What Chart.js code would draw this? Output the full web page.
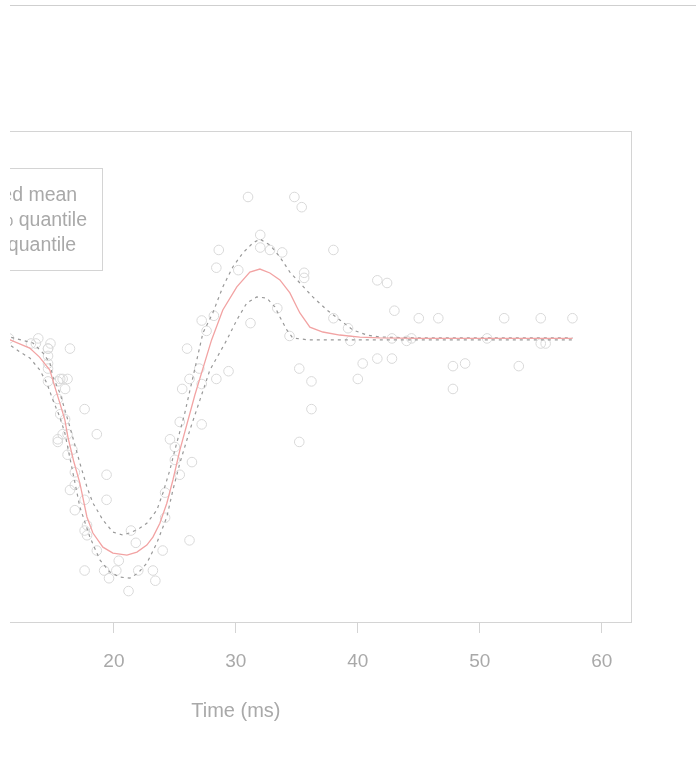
<!DOCTYPE html>
<html><head><meta charset="utf-8">
<script src="https://cdn.jsdelivr.net/npm/chart.js@4.4.1/dist/chart.umd.min.js"></script>
<style>
html,body{margin:0;padding:0;background:#fff;overflow:hidden;width:696px;height:771px;}
#rule{position:absolute;left:10px;top:5px;width:686px;height:1px;background:#cfcfcf;}
#clip{position:absolute;left:10px;top:0;width:686px;height:771px;overflow:hidden;}
#c{position:absolute;left:-300px;top:0;}
</style></head><body>
<div id="rule"></div>
<div id="clip"><canvas id="c" width="1000" height="771"></canvas></div>
<script>
// Observations (time in ms, acceleration in g)
const obsTime = [2.4,2.6,3.2,3.6,4.0,6.2,6.6,6.8,7.8,8.2,8.8,8.8,9.6,10.0,10.2,10.6,11.0,11.4,13.2,13.6,13.8,14.6,14.6,14.6,14.6,14.6,14.6,14.8,15.4,15.4,15.4,15.4,15.6,15.6,15.8,15.8,16.0,16.0,16.2,16.2,16.2,16.4,16.4,16.6,16.8,16.8,16.8,17.6,17.6,17.6,17.6,17.8,17.8,18.6,18.6,19.2,19.4,19.4,19.6,20.2,20.4,21.2,21.4,21.8,22.0,23.2,23.4,24.0,24.2,24.2,24.6,25.0,25.0,25.4,25.4,25.6,26.0,26.2,26.2,26.4,27.0,27.2,27.2,27.2,27.6,28.2,28.4,28.4,28.6,29.4,30.2,31.0,31.2,32.0,32.0,32.8,33.4,33.8,34.4,34.8,35.2,35.2,35.4,35.6,35.6,36.2,36.2,38.0,38.0,39.2,39.4,40.0,40.4,41.6,41.6,42.4,42.8,42.8,43.0,44.0,44.4,45.0,46.6,47.8,47.8,48.8,50.6,52.0,53.2,55.0,55.0,55.4,57.6];
const obsAccel = [0.0,-1.3,-2.7,0.0,-2.7,-2.7,-2.7,-1.3,-2.7,-2.7,-1.3,-2.7,-2.7,-2.7,-5.4,-2.7,-5.4,0.0,-2.7,-2.7,0.0,-13.3,-5.4,-5.4,-9.3,-16.0,-22.8,-2.7,-22.8,-32.1,-53.5,-54.9,-40.2,-21.5,-21.5,-50.8,-42.9,-26.8,-21.5,-50.8,-61.7,-5.4,-80.4,-59.0,-71.0,-91.1,-77.7,-37.5,-85.6,-123.1,-101.9,-99.1,-104.4,-112.5,-50.8,-123.1,-85.6,-72.3,-127.2,-123.1,-117.9,-134.0,-101.9,-108.4,-123.1,-123.1,-128.5,-112.5,-95.1,-81.8,-53.5,-64.4,-57.6,-72.3,-44.3,-26.8,-5.4,-107.1,-21.5,-65.6,-16.0,-45.6,-24.2,9.5,4.0,12.0,-21.5,37.5,46.9,-17.4,36.2,75.0,8.1,54.9,48.2,46.9,16.0,45.6,1.3,75.0,-16.0,-54.9,69.6,34.8,32.1,-37.5,-22.8,46.9,10.7,5.4,-1.3,-21.5,-13.3,30.8,-10.7,29.4,0.0,-10.7,14.7,-1.3,0.0,10.7,10.7,-26.8,-14.7,-13.3,0.0,10.7,-14.7,-2.7,10.7,-2.7,10.7];

// Fitted mean curve
const meanTime = [2.4,6,9,11.5,13.1,13.9,14.75,15.16,15.57,15.98,16.23,16.7,17.21,17.79,18.28,19.1,19.92,21.07,21.89,22.7,23.2,23.77,24.34,24.84,25.41,26.64,28.01,28.93,30.08,31.15,31.97,32.79,33.61,34.43,35.0,35.25,36.07,37.13,38.52,40.16,41.8,45,50,57.6];
const meanAccel = [-1,-1,-1,-0.8,-5.1,-9.9,-16.8,-25.7,-34.3,-43.2,-52.3,-65,-76.7,-94.7,-103.2,-110.7,-113.9,-114.9,-113.3,-109.6,-105.4,-98.0,-87.4,-75.1,-59.2,-30.0,-0.8,15.1,27.3,35.2,36.8,34.7,31.0,24.1,16.7,13.5,6.0,3.4,1.8,0.7,0.3,0,0,0];

// Upper (95%) quantile curve
const upperTime = [2.4,8,11.5,13.36,14.18,14.75,15.0,15.57,15.98,16.39,17.21,17.79,18.28,19.1,19.92,20.74,21.48,22.13,22.7,23.52,24.02,24.59,25.0,25.8,26.5,27.3,28.11,28.93,29.75,30.57,31.39,31.97,32.79,33.61,34.43,35.25,36.31,37.46,38.52,39.59,40.74,41.8,45,50,57.6];
const upperAccel = [1.5,1.5,0.7,-2.4,-7.7,-13.0,-20.4,-28.9,-37.9,-46.9,-66.1,-78.8,-87.3,-96.3,-102.7,-104.3,-102.7,-100.6,-98.0,-91.1,-82.0,-69.8,-59.2,-40,-20,2.9,13.5,27.3,37.9,45.3,50.6,52.7,49.6,43.2,35.2,29.4,22.0,15.1,9.8,4.5,1.8,0.7,0.3,0.3,0.3];

// Lower (5%) quantile curve
const lowerTime = [2.4,8,11.48,12.3,13.11,13.93,14.5,15.0,15.57,15.98,16.6,17.21,18.03,18.85,19.67,20.49,21.31,21.97,22.7,23.52,24.34,24.84,25.41,26.23,27.05,27.87,29.26,30.08,30.9,31.72,32.54,33.2,33.61,34.18,34.67,36,40,50,57.6];
const lowerAccel = [-3.5,-3.5,-3.5,-7.2,-10.4,-16.8,-23.7,-32.7,-41.7,-50.2,-70,-89.4,-105.3,-117.5,-123.9,-126.6,-127.1,-124.5,-119.2,-108.5,-94.7,-80.4,-66.1,-48.6,-32.7,-16.8,-0.8,9.8,18.8,22.0,21.4,16.7,11.4,4.5,0.2,-0.8,-0.8,-0.8,-0.8];

const xTicks = [0,10,20,30,40,50,60];
const yTicks = [-100,-50,0,50,100];
const legendLabels = ['Fitted mean','95% quantile','5% quantile'];
const xTitle = 'Time (ms)';
const yTitle = 'Acceleration (g)';

const FONT = '"Liberation Sans", Arial, Helvetica, sans-serif';
const zip = (a,b) => a.map((v,i)=>({x:v,y:b[i]}));

const MEAN_COL = '#f2a3a3', Q_COL = '#999999', PT_COL = '#d9d9d9', AX_COL = '#d4d4d4', TXT_COL = '#a9a9a9';

const boxPlugin = {
  id:'rbox',
  afterDatasetsDraw(chart){
    const {ctx, chartArea:a} = chart;
    ctx.save();
    ctx.strokeStyle = AX_COL; ctx.lineWidth = 1;
    ctx.strokeRect(Math.round(a.left)+0.5, Math.round(a.top)+0.5, Math.round(a.width), Math.round(a.height));
    ctx.restore();
  }
};

const legendPlugin = {
  id:'rlegend',
  afterDraw(chart){
    const {ctx, chartArea:a} = chart;
    ctx.save();
    ctx.font = '19.5px ' + FONT;
    const right = Math.round(a.left + 261.3), top = Math.round(a.top + 37), bottom = Math.round(a.top + 139);
    const maxW = Math.max(...legendLabels.map(l => ctx.measureText(l).width));
    const textX = right - 15 - maxW;
    const left = Math.round(textX - 60);
    ctx.fillStyle = '#fff';
    ctx.fillRect(left, top, right-left, bottom-top);
    ctx.strokeStyle = AX_COL; ctx.lineWidth = 1;
    ctx.strokeRect(left+0.5, top+0.5, right-left, bottom-top);
    const styles = [[MEAN_COL,[]],[Q_COL,[3,4]],[Q_COL,[3,4]]];
    legendLabels.forEach((lab,i) => {
      const y = top + 28 + i*25;
      ctx.strokeStyle = styles[i][0]; ctx.setLineDash(styles[i][1]); ctx.lineWidth = 1.3;
      ctx.beginPath(); ctx.moveTo(textX-50, y); ctx.lineTo(textX-10, y); ctx.stroke();
      ctx.setLineDash([]);
      ctx.fillStyle = TXT_COL; ctx.textBaseline = 'middle'; ctx.textAlign = 'left';
      ctx.fillText(lab, textX, y);
    });
    ctx.restore();
  }
};

new Chart(document.getElementById('c'), {
  type:'scatter',
  data:{datasets:[
    {label:legendLabels[0], data:zip(meanTime,meanAccel), showLine:true, borderColor:MEAN_COL, borderWidth:1.3, pointRadius:0, order:1},
    {label:legendLabels[1], data:zip(upperTime,upperAccel), showLine:true, borderColor:Q_COL, borderDash:[3,4], borderWidth:1.2, pointRadius:0, order:2},
    {label:legendLabels[2], data:zip(lowerTime,lowerAccel), showLine:true, borderColor:Q_COL, borderDash:[3,4], borderWidth:1.2, pointRadius:0, order:2},
    {label:'Observations', data:zip(obsTime,obsAccel), pointStyle:'circle', pointRadius:4.8, borderColor:PT_COL, backgroundColor:'rgba(0,0,0,0)', borderWidth:1, order:3}
  ]},
  options:{
    responsive:false, animation:false, devicePixelRatio:1,
    layout:{padding:{left:0,right:79,top:131,bottom:49.5}},
    plugins:{legend:{display:false}, tooltip:{enabled:false}},
    scales:{
      x:{type:'linear', min:-2.4, max:62.4,
         afterBuildTicks:s=>{s.ticks = xTicks.map(v=>({value:v}));},
         afterFit:s=>{s.height = 99.5;},
         border:{display:false},
         grid:{drawOnChartArea:false, drawTicks:true, tickLength:11, color:AX_COL, lineWidth:1},
         ticks:{color:TXT_COL, font:{family:FONT,size:19}, padding:17, maxRotation:0, autoSkip:false},
         title:{display:true, text:xTitle, color:TXT_COL, font:{family:FONT,size:20,lineHeight:1}, padding:0}},
      y:{type:'linear', min:-150.4, max:110,
         afterBuildTicks:s=>{s.ticks = yTicks.map(v=>({value:v}));},
         afterFit:s=>{s.width = 130.7;},
         border:{display:false},
         grid:{drawOnChartArea:false, drawTicks:true, tickLength:11, color:AX_COL, lineWidth:1},
         ticks:{color:TXT_COL, font:{family:FONT,size:19}, padding:10, maxRotation:90, minRotation:90, autoSkip:false},
         title:{display:true, text:yTitle, color:TXT_COL, font:{family:FONT,size:20,lineHeight:1}, padding:0}}
    }
  },
  plugins:[boxPlugin, legendPlugin]
});
</script>
</body></html>
